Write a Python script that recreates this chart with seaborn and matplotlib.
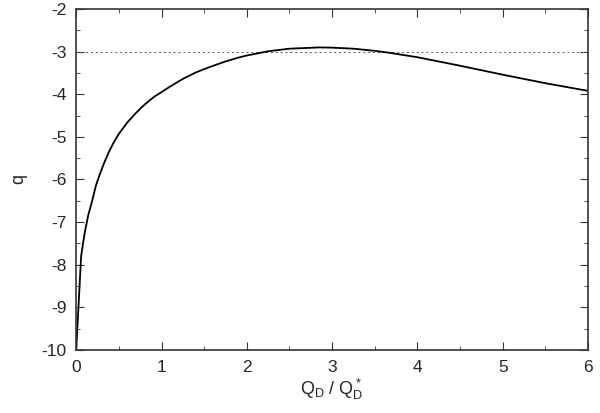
import pandas as pd
import seaborn as sns
from matplotlib import pyplot as plt
from matplotlib.ticker import MultipleLocator

# curve
qd_ratio = [0, 0.058, 0.08, 0.1, 0.14, 0.19, 0.23, 0.28, 0.33, 0.38, 0.44,
            0.5, 0.6, 0.69, 0.77, 0.85, 0.92, 1.0, 1.1, 1.25, 1.4, 1.5,
            1.65, 1.75, 1.9, 2.0, 2.25, 2.5, 2.85, 3.0, 3.25, 3.5, 3.65,
            4.0, 4.5, 5.0, 5.5, 6.0]
q_vals = [-10, -7.8, -7.5, -7.25, -6.85, -6.48, -6.15, -5.86, -5.6, -5.37,
          -5.13, -4.93, -4.66, -4.46, -4.30, -4.16, -4.05, -3.95, -3.82,
          -3.64, -3.49, -3.41, -3.30, -3.23, -3.14, -3.09, -2.99, -2.93,
          -2.90, -2.905, -2.93, -2.98, -3.02, -3.13, -3.33, -3.54, -3.74,
          -3.92]
ref_q = -3

df = pd.DataFrame({"ratio": qd_ratio, "q": q_vals})

sns.set_style("ticks")
plt.rcParams["font.family"] = ["Liberation Sans", "DejaVu Sans"]
plt.rcParams["mathtext.fontset"] = "custom"
plt.rcParams["mathtext.rm"] = "Liberation Sans"
plt.rcParams["mathtext.it"] = "Liberation Sans"
plt.rcParams["axes.unicode_minus"] = False

fig = plt.figure(figsize=(6, 4.13), dpi=100)
ax = fig.add_axes([0.127, 0.153, 0.853, 0.825])

ax.axhline(ref_q, color="#555555", lw=0.7, ls=(0, (2, 3)))
sns.lineplot(data=df, x="ratio", y="q", ax=ax, color="black", lw=1.3,
             sort=False)

ax.set_xlim(0, 6)
ax.set_ylim(-10, -2)
ax.xaxis.set_major_locator(MultipleLocator(1))
ax.xaxis.set_minor_locator(MultipleLocator(0.5))
ax.yaxis.set_major_locator(MultipleLocator(1))
ax.yaxis.set_minor_locator(MultipleLocator(0.5))
ax.tick_params(which="both", direction="in", top=True, right=True,
               labelsize=12.5, color="#333333")
ax.tick_params(which="major", length=6, pad=7)
ax.tick_params(which="minor", length=3)
for s in ax.spines.values():
    s.set_linewidth(1.2)
    s.set_color("#333333")

ax.set_xlabel(r"$\mathregular{Q_D\ /\ Q^*_D}$", fontsize=13, labelpad=2)
ax.set_ylabel("q", fontsize=13, labelpad=10)

fig.savefig("out.png", dpi=100)
